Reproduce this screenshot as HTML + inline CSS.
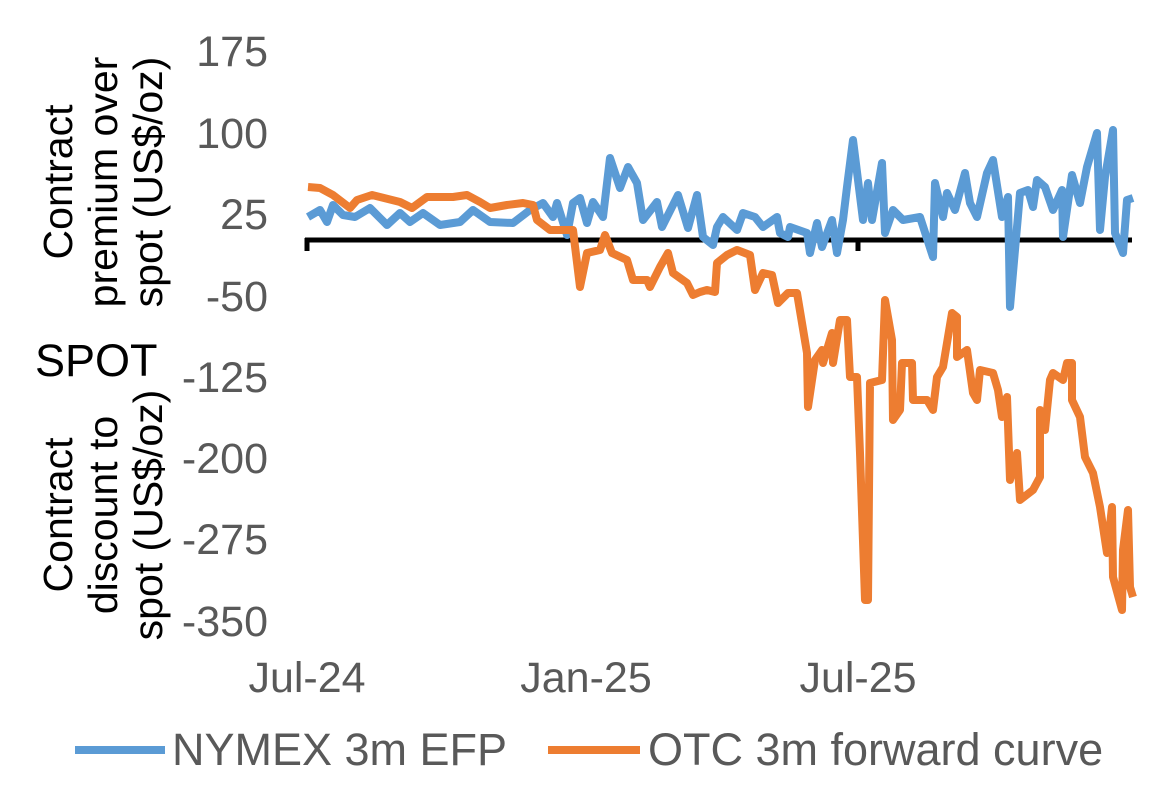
<!DOCTYPE html>
<html><head><meta charset="utf-8"><style>
body{margin:0;background:#fff;}
svg{display:block;font-family:"Liberation Sans",Arial,sans-serif;}
</style></head><body>
<svg width="1169" height="787" viewBox="0 0 1169 787">
<g fill="#595959" font-size="43" text-anchor="end">
<text x="268" y="66">175</text>
<text x="268" y="148">100</text>
<text x="268" y="229">25</text>
<text x="268" y="311">-50</text>
<text x="268" y="392">-125</text>
<text x="268" y="473">-200</text>
<text x="268" y="554">-275</text>
<text x="268" y="636">-350</text>
</g>
<g fill="#595959" font-size="43" text-anchor="middle">
<text x="307" y="692">Jul-24</text>
<text x="586" y="692">Jan-25</text>
<text x="858" y="692">Jul-25</text>
</g>
<g fill="#000" font-size="41" text-anchor="middle">
<g transform="translate(72,182) rotate(-90)"><text x="0" y="0">Contract</text></g>
<g transform="translate(117,182) rotate(-90)"><text x="0" y="0">premium over</text></g>
<g transform="translate(162,182) rotate(-90)"><text x="0" y="0">spot (US$/oz)</text></g>
<g transform="translate(72,515) rotate(-90)"><text x="0" y="0">Contract</text></g>
<g transform="translate(117,515) rotate(-90)"><text x="0" y="0">discount to</text></g>
<g transform="translate(162,515) rotate(-90)"><text x="0" y="0">spot (US$/oz)</text></g>
</g>
<text x="35" y="376" font-size="45" fill="#000">SPOT</text>
<g stroke="#000" stroke-width="5" fill="none">
<line x1="305" y1="240" x2="1132" y2="240"/>
<line x1="307" y1="238" x2="307" y2="251"/>
<line x1="858" y1="238" x2="858" y2="251"/>
</g>
<polyline fill="none" stroke="#5B9BD5" stroke-width="8" stroke-linejoin="round" points="308,217 320,210 327,222 333,205 343,215 355,217 370,208 387,225 400,213 410,222 423,213 440,225 460,222 473,210 490,222 513,223 530,210 543,203 553,217 557,203 567,235 573,203 580,198 587,223 593,202 603,217 610,158 620,188 628,167 637,183 643,220 657,202 662,227 678,195 688,228 697,195 703,237 713,245 717,227 723,217 737,230 743,213 755,217 763,227 777,217 780,233 788,237 790,227 807,233 810,253 817,223 822,247 832,220 837,253 843,220 847,187 853,140 863,220 868,183 872,220 882,163 885,233 893,210 903,220 920,217 933,257 935,183 943,217 947,193 955,210 965,173 970,203 977,217 987,173 993,160 1002,217 1008,197 1010,307 1020,193 1028,190 1033,207 1037,180 1045,187 1053,210 1062,190 1063,237 1072,175 1080,203 1087,167 1097,133 1100,230 1105,177 1113,130 1115,233 1123,253 1127,200 1133,198"/>
<polyline fill="none" stroke="#ED7D31" stroke-width="8" stroke-linejoin="round" points="308,187 320,188 333,195 350,208 357,200 372,195 400,202 412,208 427,197 453,197 467,195 480,202 490,208 507,205 523,203 533,205 537,220 550,230 573,230 580,287 587,253 600,250 605,235 612,253 627,260 633,280 647,280 650,287 660,267 668,253 673,273 687,283 693,295 700,292 707,290 715,292 717,263 727,255 737,250 750,255 755,290 763,273 772,275 778,303 788,293 797,293 807,353 808,407 815,360 822,350 823,363 832,333 833,363 840,320 847,320 850,377 857,377 860,453 865,600 868,600 870,383 882,380 885,300 892,340 893,420 900,410 902,363 912,363 913,400 927,400 933,410 937,377 943,367 952,313 957,317 957,357 967,350 973,393 977,400 980,370 993,373 998,390 1002,417 1007,397 1010,480 1017,453 1020,500 1033,490 1040,477 1040,410 1045,430 1050,380 1053,373 1063,380 1067,363 1072,363 1072,400 1080,417 1085,457 1093,473 1100,507 1107,553 1112,507 1113,577 1122,610 1123,550 1128,510 1130,587 1133,597"/>
<line x1="75" y1="750" x2="165" y2="750" stroke="#5B9BD5" stroke-width="8"/>
<text x="172" y="765" font-size="45" fill="#595959">NYMEX 3m EFP</text>
<line x1="548" y1="750" x2="640" y2="750" stroke="#ED7D31" stroke-width="8"/>
<text x="648" y="765" font-size="45" fill="#595959">OTC 3m forward curve</text>
</svg>
</body></html>
